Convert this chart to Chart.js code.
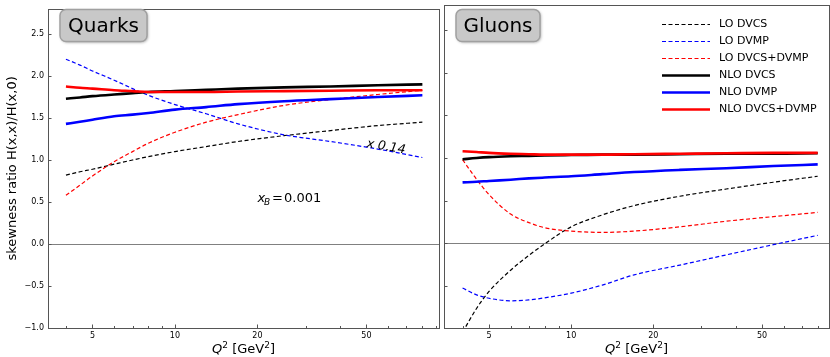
<!DOCTYPE html>
<html>
<head>
<meta charset="utf-8">
<script src="https://cdn.jsdelivr.net/npm/chart.js@4.4.1/dist/chart.umd.min.js"></script>
<style>
  body { margin: 0; background: #fff; }
  #wrap { position: relative; width: 830px; height: 357px; }
  canvas { position: absolute; top: 0; }
  #quarksChart { left: 0; }
  #gluonsChart { left: 441px; }
</style>
</head>
<body>
<div id="wrap">
  <canvas id="quarksChart" width="441" height="357"></canvas>
  <canvas id="gluonsChart" width="389" height="357"></canvas>
</div>
<script>
// Q^2 grid (GeV^2) shared by all curves
const q2 = [4, 4.5, 5, 6, 7, 8, 10, 13, 17, 25, 37, 55, 80];
const seriesLabels = ['LO DVCS', 'LO DVMP', 'LO DVCS+DVMP', 'NLO DVCS', 'NLO DVMP', 'NLO DVCS+DVMP'];

// quarks panel
const quarkLoDvcs     = [0.82, 0.86, 0.89, 0.95, 1.00, 1.04, 1.10, 1.16, 1.22, 1.29, 1.35, 1.41, 1.45];
const quarkLoDvmp     = [2.20, 2.13, 2.06, 1.95, 1.85, 1.77, 1.66, 1.55, 1.43, 1.30, 1.22, 1.13, 1.03];
const quarkLoBoth     = [0.58, 0.70, 0.81, 0.98, 1.10, 1.20, 1.33, 1.45, 1.54, 1.65, 1.72, 1.78, 1.83];
const quarkNloDvcs    = [1.73, 1.745, 1.76, 1.78, 1.795, 1.81, 1.82, 1.835, 1.85, 1.865, 1.875, 1.89, 1.90];
const quarkNloDvmp    = [1.43, 1.455, 1.48, 1.52, 1.54, 1.56, 1.60, 1.63, 1.665, 1.70, 1.725, 1.75, 1.77];
const quarkNloBoth    = [1.875, 1.86, 1.85, 1.83, 1.82, 1.81, 1.81, 1.81, 1.815, 1.82, 1.825, 1.83, 1.83];

// gluons panel
const gluonLoDvcs     = [-1.05, -0.77, -0.57, -0.32, -0.145, -0.01, 0.19, 0.33, 0.44, 0.55, 0.635, 0.715, 0.785];
const gluonLoDvmp     = [-0.53, -0.61, -0.65, -0.68, -0.67, -0.645, -0.59, -0.495, -0.375, -0.26, -0.14, -0.02, 0.09];
const gluonLoBoth     = [0.98, 0.75, 0.57, 0.34, 0.24, 0.18, 0.14, 0.125, 0.14, 0.19, 0.256, 0.31, 0.36];
const gluonNloDvcs    = [0.985, 1.0, 1.01, 1.02, 1.025, 1.03, 1.035, 1.04, 1.04, 1.045, 1.05, 1.05, 1.055];
const gluonNloDvmp    = [0.713, 0.72, 0.73, 0.745, 0.76, 0.77, 0.785, 0.81, 0.835, 0.86, 0.88, 0.905, 0.925];
const gluonNloBoth    = [1.08, 1.07, 1.06, 1.05, 1.045, 1.04, 1.04, 1.04, 1.045, 1.05, 1.055, 1.06, 1.06];

const majorX = [5, 10, 20, 50];
const minorX = [4, 6, 7, 8, 9, 30, 40, 60, 70, 80, 90];
const yTicks = [-1, -0.5, 0, 0.5, 1, 1.5, 2, 2.5];

const FONT = 'DejaVu Sans';
const lineStyles = [
  { color: '#000000', width: 1.2, dash: [4, 2.5] },
  { color: '#0000ff', width: 1.2, dash: [4, 2.5] },
  { color: '#ff0000', width: 1.2, dash: [4, 2.5] },
  { color: '#000000', width: 2.6, dash: [] },
  { color: '#0000ff', width: 2.6, dash: [] },
  { color: '#ff0000', width: 2.6, dash: [] },
];

function makeDatasets(valueArrays) {
  return valueArrays.map((vals, i) => ({
    label: seriesLabels[i],
    data: q2.map((q, j) => ({ x: q, y: vals[j] })),
    borderColor: lineStyles[i].color,
    borderWidth: lineStyles[i].width,
    borderDash: lineStyles[i].dash,
    pointRadius: 0,
    fill: false,
    cubicInterpolationMode: 'monotone',
    order: valueArrays.length - 1 - i,  // later series on top
  }));
}

function labelBox(ctx, text, x, y, w, h) {
  ctx.save();
  ctx.shadowColor = 'rgba(0,0,0,0.35)';
  ctx.shadowBlur = 3;
  ctx.shadowOffsetX = 1;
  ctx.shadowOffsetY = 1;
  ctx.beginPath();
  ctx.roundRect(x, y, w, h, 6);
  ctx.fillStyle = '#c8c8c8';
  ctx.fill();
  ctx.shadowColor = 'transparent';
  ctx.strokeStyle = '#a0a0a0';
  ctx.lineWidth = 1.5;
  ctx.stroke();
  ctx.fillStyle = '#000';
  ctx.font = '20px "' + FONT + '"';
  ctx.textAlign = 'center';
  ctx.textBaseline = 'middle';
  ctx.fillText(text, x + w / 2, y + h / 2 + 1);
  ctx.restore();
}

// Q^2 [GeV^2] with italic Q and superscripts
function drawXTitle(ctx, cx, baseline) {
  const parts = [
    { t: 'Q', f: 'italic 13px "' + FONT + '"', dy: 0 },
    { t: '2', f: '9px "' + FONT + '"', dy: -5 },
    { t: ' [GeV', f: '13px "' + FONT + '"', dy: 0 },
    { t: '2', f: '9px "' + FONT + '"', dy: -5 },
    { t: ']', f: '13px "' + FONT + '"', dy: 0 },
  ];
  let total = 0;
  parts.forEach(p => { ctx.font = p.f; p.w = ctx.measureText(p.t).width; total += p.w; });
  let x = cx - total / 2;
  ctx.fillStyle = '#000';
  ctx.textAlign = 'left';
  ctx.textBaseline = 'alphabetic';
  parts.forEach(p => { ctx.font = p.f; ctx.fillText(p.t, x, baseline + p.dy); x += p.w; });
}

const decorPlugin = {
  id: 'decor',
  beforeDatasetsDraw(chart) {
    const { ctx, chartArea: a } = chart;
    const py = Math.round(chart.scales.y.getPixelForValue(0)) + 0.5;
    ctx.save();
    ctx.strokeStyle = '#808080';
    ctx.lineWidth = 1;
    ctx.beginPath();
    ctx.moveTo(a.left, py);
    ctx.lineTo(a.right, py);
    ctx.stroke();
    ctx.restore();
  },
  afterDatasetsDraw(chart, args, opts) {
    const { ctx, chartArea: a } = chart;
    const xs = chart.scales.x, ys = chart.scales.y;
    ctx.save();
    ctx.strokeStyle = '#555';
    ctx.lineWidth = 1;
    ctx.beginPath();
    majorX.forEach(v => {
      const px = Math.round(xs.getPixelForValue(v)) + 0.5;
      ctx.moveTo(px, a.bottom); ctx.lineTo(px, a.bottom - 3.5);
    });
    minorX.forEach(v => {
      if (v < xs.min || v > xs.max) return;
      const px = Math.round(xs.getPixelForValue(v)) + 0.5;
      ctx.moveTo(px, a.bottom); ctx.lineTo(px, a.bottom - 2);
    });
    yTicks.forEach(v => {
      const py = Math.round(ys.getPixelForValue(v)) + 0.5;
      ctx.moveTo(a.left, py); ctx.lineTo(a.left + 3.5, py);
    });
    ctx.stroke();
    ctx.strokeRect(Math.round(a.left) + 0.5, Math.round(a.top) + 0.5,
                   Math.round(a.right - a.left), Math.round(a.bottom - a.top));
    ctx.restore();

    ctx.save();
    drawXTitle(ctx, (a.left + a.right) / 2, 353);
    labelBox(ctx, opts.name, a.left + opts.boxDx, 9.5, opts.boxW, 32);
    if (opts.extra) opts.extra(chart);
    ctx.restore();
  }
};

function quarkExtras(chart) {
  const ctx = chart.ctx;
  // y-axis title
  ctx.save();
  ctx.translate(13, (chart.chartArea.top + chart.chartArea.bottom) / 2);
  ctx.rotate(-Math.PI / 2);
  ctx.font = '13px "' + FONT + '"';
  ctx.fillStyle = '#000';
  ctx.textAlign = 'center';
  ctx.textBaseline = 'middle';
  ctx.fillText('skewness ratio H(x,x)/H(x,0)', 0, 0);
  ctx.restore();

  // scale factor on LO DVMP curve
  ctx.save();
  ctx.translate(386, 147);
  ctx.rotate(9.5 * Math.PI / 180);
  ctx.font = 'italic 12.5px "' + FONT + '"';
  ctx.fillStyle = '#000';
  ctx.textAlign = 'center';
  ctx.textBaseline = 'middle';
  ctx.fillText('x 0.14', 0, 0);
  ctx.restore();

  // x_B = 0.001
  ctx.save();
  ctx.fillStyle = '#000';
  ctx.textBaseline = 'alphabetic';
  ctx.textAlign = 'left';
  const base = 202;
  ctx.font = 'italic 13px "' + FONT + '"';
  ctx.fillText('x', 257.5, base);
  ctx.font = 'italic 9px "' + FONT + '"';
  ctx.fillText('B', 264, base + 3);
  ctx.font = '13px "' + FONT + '"';
  ctx.fillText('=', 272, base);
  ctx.fillText('0.001', 284, base);
  ctx.restore();
}

function gluonExtras(chart) {
  const ctx = chart.ctx;
  const lx = 221, tx = 278, top = 24, step = 16.9;
  ctx.save();
  seriesLabels.forEach((label, i) => {
    const y = Math.round(top + i * step) + 0.5;
    ctx.strokeStyle = lineStyles[i].color;
    ctx.lineWidth = lineStyles[i].width;
    ctx.setLineDash(lineStyles[i].dash);
    ctx.beginPath();
    ctx.moveTo(lx, y); ctx.lineTo(lx + 48, y);
    ctx.stroke();
    ctx.setLineDash([]);
    ctx.fillStyle = '#000';
    ctx.font = '11px "' + FONT + '"';
    ctx.textAlign = 'left';
    ctx.textBaseline = 'middle';
    ctx.fillText(label, tx, y);
  });
  ctx.restore();
}

function makeChart(id, datasets, xMin, xMax, yWidth, padRight, showY, decor) {
  return new Chart(document.getElementById(id), {
    type: 'line',
    data: { datasets },
    plugins: [decorPlugin],
    options: {
      responsive: false,
      animation: false,
      layout: { padding: { top: 5, right: padRight, bottom: 0, left: 0 } },
      plugins: { legend: { display: false }, tooltip: { enabled: false }, decor },
      scales: {
        x: {
          type: 'logarithmic',
          min: xMin, max: xMax,
          grid: { display: false, drawTicks: false },
          border: { display: false },
          afterBuildTicks: s => { s.ticks = majorX.map(v => ({ value: v })); },
          afterFit: s => { s.height = 29; },
          ticks: {
            autoSkip: false, maxRotation: 0, padding: 3,
            color: '#000', font: { family: FONT, size: 8 },
            callback: v => String(v),
          },
        },
        y: {
          type: 'linear',
          min: -1, max: 2.8,
          grid: { display: false, drawTicks: false },
          border: { display: false },
          afterBuildTicks: s => { s.ticks = yTicks.map(v => ({ value: v })); },
          afterFit: s => { s.width = yWidth; },
          ticks: {
            display: showY, padding: 4,
            color: '#000', font: { family: FONT, size: 8 },
            callback: v => (v < 0 ? '\u2212' : '') + Math.abs(v).toFixed(1),
          },
        },
      },
    },
  });
}

makeChart('quarksChart',
  makeDatasets([quarkLoDvcs, quarkLoDvmp, quarkLoBoth, quarkNloDvcs, quarkNloDvmp, quarkNloBoth]),
  3.44, 92, 48, 2, true,
  { name: 'Quarks', boxDx: 12, boxW: 87, extra: quarkExtras });

makeChart('gluonsChart',
  makeDatasets([gluonLoDvcs, gluonLoDvmp, gluonLoBoth, gluonNloDvcs, gluonNloDvmp, gluonNloBoth]),
  3.42, 88, 3, 1, false,
  { name: 'Gluons', boxDx: 12, boxW: 84, extra: gluonExtras });
</script>
</body>
</html>
